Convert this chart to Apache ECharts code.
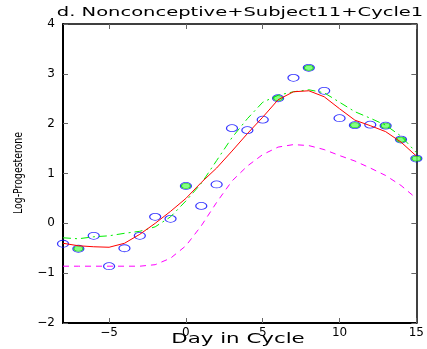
<!DOCTYPE html>
<html>
<head>
<meta charset="utf-8">
<script src="https://cdn.jsdelivr.net/npm/echarts@6/dist/echarts.min.js"></script>
<style>
  html, body { margin: 0; padding: 0; background: #fff; }
  #chart { width: 427px; height: 349px; }
</style>
</head>
<body>
<div id="chart"></div>
<script>
// 数据：估计值
const days = [-8, -7, -6, -5, -4, -3, -2, -1, 0, 1, 2, 3, 4, 5, 6, 7, 8, 9, 10, 11, 12, 13, 14, 15];
const observed = [-0.41, -0.51, -0.25, -0.86, -0.50, -0.25, 0.13, 0.09, 0.75, 0.35, 0.78, 1.91,
                  1.87, 2.08, 2.51, 2.92, 3.12, 2.66, 2.11, 1.97, 1.98, 1.96, 1.68, 1.30];
const highlightDays = [-7, 0, 6, 8, 11, 13, 14, 15];
const fitted = [-0.40, -0.45, -0.47, -0.48, -0.40, -0.22, 0.00, 0.24, 0.50, 0.82, 1.11, 1.45,
                1.80, 2.13, 2.48, 2.64, 2.66, 2.54, 2.30, 2.07, 1.96, 1.84, 1.63, 1.35];
const upper = [-0.29, -0.31, -0.27, -0.25, -0.20, -0.16, -0.07, 0.13, 0.45, 0.80, 1.26, 1.72,
               2.10, 2.43, 2.57, 2.64, 2.68, 2.62, 2.43, 2.24, 2.11, 1.97, 1.75, 1.42];
const lower = [-0.86, -0.86, -0.86, -0.86, -0.86, -0.86, -0.83, -0.70, -0.45, -0.05, 0.42, 0.85,
               1.15, 1.38, 1.53, 1.58, 1.56, 1.48, 1.36, 1.25, 1.11, 0.96, 0.76, 0.50];
const xTicks = [-5, 0, 5, 10, 15];
const titleText = 'd. Nonconceptive+Subject11+Cycle1';
const xName = 'Day in Cycle';
const yName = 'Log-Progesterone';

const chart = echarts.init(document.getElementById('chart'));

const pairs = vals => days.map((d, i) => [d, vals[i]]);
const minus = v => String(v).replace('-', '\u2212');

const tickCommon = { inside: true, length: 5, lineStyle: { color: '#666', width: 1 } };
const labelFont = { fontFamily: 'DejaVu Sans', fontSize: 12, color: '#000' };

const option = {
  animation: false,
  backgroundColor: '#fff',
  grid: { left: 63, right: 9, top: 24, bottom: 26 },
  xAxis: [
    {
      type: 'value', min: -8, max: 15, position: 'bottom',
      axisLine: { onZero: false, lineStyle: { color: '#000', width: 2 } },
      axisTick: Object.assign({ customValues: xTicks }, tickCommon),
      axisLabel: Object.assign({ customValues: xTicks, formatter: minus, margin: 4 }, labelFont),
      splitLine: { show: false }
    },
    {
      type: 'value', min: -8, max: 15, position: 'top',
      axisLine: { onZero: false, lineStyle: { color: '#000', width: 1.5 } },
      axisTick: Object.assign({ customValues: xTicks }, tickCommon),
      axisLabel: { show: false },
      splitLine: { show: false }
    }
  ],
  yAxis: [
    {
      type: 'value', min: -2, max: 4, interval: 1, position: 'left',
      axisLine: { show: true, onZero: false, lineStyle: { color: '#000', width: 2 } },
      axisTick: Object.assign({ show: true }, tickCommon),
      axisLabel: Object.assign({ formatter: minus, margin: 8 }, labelFont),
      splitLine: { show: false }
    },
    {
      type: 'value', min: -2, max: 4, interval: 1, position: 'right',
      axisLine: { show: true, onZero: false, lineStyle: { color: '#000', width: 1.5 } },
      axisTick: Object.assign({ show: true }, tickCommon),
      axisLabel: { show: false },
      splitLine: { show: false }
    }
  ],
  graphic: [
    {
      type: 'text', x: 240, y: 13, scaleX: 1.5,
      style: { text: titleText, font: '13px "DejaVu Sans"', fill: '#000',
               textAlign: 'center', textVerticalAlign: 'middle' }
    },
    {
      type: 'text', x: 238, y: 339, scaleX: 1.58,
      style: { text: xName, font: '13.5px "DejaVu Sans"', fill: '#000',
               textAlign: 'center', textVerticalAlign: 'middle' }
    },
    {
      type: 'text', x: 19, y: 173, rotation: Math.PI / 2, scaleX: 0.72,
      style: { text: yName, font: '13px "DejaVu Sans"', fill: '#000',
               textAlign: 'center', textVerticalAlign: 'middle' }
    }
  ],
  series: [
    {
      type: 'line', data: pairs(lower), showSymbol: false, silent: true,
      lineStyle: { color: '#ff00ff', width: 1, type: [6, 5] }
    },
    {
      type: 'line', data: pairs(upper), showSymbol: false, silent: true,
      lineStyle: { color: '#00ee00', width: 1, type: [8, 4, 2, 4] }
    },
    {
      type: 'line', data: pairs(fitted), showSymbol: false, silent: true,
      lineStyle: { color: '#ff0000', width: 1 }
    },
    {
      type: 'scatter', data: pairs(observed), symbol: 'circle', symbolSize: [11, 7],
      itemStyle: { color: 'rgba(0,0,0,0)', borderColor: '#0000ff', borderWidth: 1 }
    },
    {
      type: 'scatter',
      data: highlightDays.map(d => [d, observed[days.indexOf(d)]]),
      symbol: 'circle', symbolSize: [9, 5],
      itemStyle: { color: '#66ff66', borderColor: '#00cc00', borderWidth: 1 }
    }
  ]
};

chart.setOption(option);
</script>
</body>
</html>
